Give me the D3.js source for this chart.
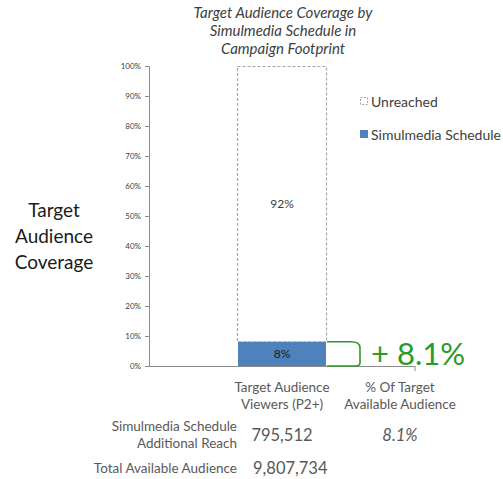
<!DOCTYPE html>
<meta charset="utf-8">
<head>
    <script type="text/javascript" src="https://cdn.jsdelivr.net/npm/d3@7"></script>
    <style>
        body { margin: 0; background: #fff; }
        text { font-family: Lato, "Open Sans", sans-serif; fill: #404040; }
    </style>
</head>
<body>
<div id="chart"></div>
<script>
    // chart data
    var categories = ["Campaign Footprint"];
    var seriesNames = ["Simulmedia Schedule", "Unreached"];
    var scheduleValues = [8.1];
    var unreachedValues = [91.9];
    var yTicks = [0, 10, 20, 30, 40, 50, 60, 70, 80, 90, 100];
    var titleLines = ["Target Audience Coverage by", "Simulmedia Schedule in", "Campaign Footprint"];
    var yTitleLines = ["Target", "Audience", "Coverage"];
    var liftLabel = "+ 8.1%";
    var tableHeaders = [["Target Audience", "Viewers (P2+)"], ["% Of Target", "Available Audience"]];
    var rowLabels = [["Simulmedia Schedule", "Additional Reach"], ["Total Available Audience"]];
    var reachValues = ["795,512", "8.1%"];
    var totalValue = "9,807,734";

    var w = 503, h = 479;
    var svg = d3.select("#chart").append("svg").attr("width", w).attr("height", h);

    var x = d3.scaleBand().domain(categories).range([149, 415]);
    var y = d3.scaleLinear().domain([0, 100]).range([366, 66]);

    // y axis
    var yAxis = d3.axisLeft(y).tickValues(yTicks).tickSize(4).tickFormat(d => d + "%");
    var gy = svg.append("g").attr("transform", "translate(149,0)").call(yAxis);
    gy.select(".domain").attr("stroke", "#8c8c8c").attr("d", "M-4,66.5H0.5V366.5H-4");
    gy.selectAll(".tick line").attr("stroke", "#8c8c8c");
    gy.selectAll(".tick text").attr("font-size", 8).attr("fill", "#404040").attr("x", -8)
        .style("font-family", "Lato, sans-serif");

    // x axis line
    svg.append("line").attr("x1", 149).attr("x2", 415).attr("y1", 366.5).attr("y2", 366.5)
        .attr("stroke", "#8c8c8c");
    svg.append("line").attr("x1", 415).attr("x2", 415).attr("y1", 366).attr("y2", 371)
        .attr("stroke", "#8c8c8c");

    var bw = 90;
    var cx = d => x(d) + x.bandwidth() / 2;

    // unreached (dashed outline)
    svg.selectAll(".unreached").data(categories).enter().append("rect")
        .attr("x", d => cx(d) - bw / 2 + 0.5)
        .attr("y", (d, i) => y(scheduleValues[i] + unreachedValues[i]) + 0.5)
        .attr("width", bw - 1)
        .attr("height", (d, i) => y(scheduleValues[i]) - y(scheduleValues[i] + unreachedValues[i]))
        .attr("fill", "none").attr("stroke", "#a6a6a6").attr("stroke-width", 1.2)
        .attr("stroke-dasharray", "3,2");

    // schedule bar
    svg.selectAll(".sched").data(categories).enter().append("rect")
        .attr("x", d => cx(d) - bw / 2 + 1)
        .attr("y", (d, i) => y(scheduleValues[i]))
        .attr("width", bw - 2)
        .attr("height", (d, i) => y(0) - y(scheduleValues[i]))
        .attr("fill", "#4f81bd");

    // bar labels
    svg.selectAll(".lblS").data(categories).enter().append("text")
        .attr("x", cx).attr("y", (d, i) => y(scheduleValues[i] / 2) + 4)
        .attr("text-anchor", "middle").attr("font-size", 12).style("fill", "#1a1a1a")
        .text((d, i) => Math.round(scheduleValues[i]) + "%");
    svg.selectAll(".lblU").data(categories).enter().append("text")
        .attr("x", cx).attr("y", (d, i) => y(scheduleValues[i] + unreachedValues[i] / 2) + 4)
        .attr("text-anchor", "middle").attr("font-size", 12)
        .text((d, i) => Math.round(unreachedValues[i]) + "%");

    // green bracket
    var bx = cx(categories[0]) + bw / 2;
    var yTop = y(scheduleValues[0]), yBot = y(0);
    svg.append("path")
        .attr("d", "M" + bx + "," + yTop + " H" + (bx + 24) + " Q" + (bx + 33) + "," + yTop + " " + (bx + 33) + "," + (yTop + 6)
            + " V" + (yBot - 3) + " Q" + (bx + 33) + "," + yBot + " " + (bx + 28) + "," + yBot + " H" + bx)
        .attr("fill", "none").attr("stroke", "#2a9a2a").attr("stroke-width", 1.6);
    svg.append("text").attr("x", bx + 44).attr("y", yBot - 1).attr("font-size", 31)
        .style("fill", "#2a9a2a").text(liftLabel);

    // title
    svg.selectAll(".title").data(titleLines).enter().append("text")
        .attr("x", 283).attr("y", (d, i) => 18 + i * 18)
        .attr("text-anchor", "middle").attr("font-size", 15).attr("font-style", "italic")
        .text(d => d);

    // y title
    svg.selectAll(".ytitle").data(yTitleLines).enter().append("text")
        .attr("x", 54).attr("y", (d, i) => 217 + i * 26)
        .attr("text-anchor", "middle").attr("font-size", 19).style("fill", "#1a1a1a")
        .text(d => d);

    // legend
    var legend = svg.append("g").attr("transform", "translate(360,0)");
    legend.append("rect").attr("x", 0.5).attr("y", 97.5).attr("width", 7).attr("height", 7)
        .attr("fill", "none").attr("stroke", "#a6a6a6").attr("stroke-dasharray", "2,1.5");
    legend.append("text").attr("x", 11).attr("y", 107).attr("font-size", 14).text(seriesNames[1]);
    legend.append("rect").attr("x", 0).attr("y", 130).attr("width", 8).attr("height", 8)
        .attr("fill", "#4f81bd");
    legend.append("text").attr("x", 11).attr("y", 140).attr("font-size", 14).text(seriesNames[0]);

    // table
    var colX = [282, 400];
    tableHeaders.forEach((lines, c) => {
        lines.forEach((t, i) => {
            svg.append("text").attr("x", colX[c]).attr("y", 392 + i * 17)
                .attr("text-anchor", "middle").attr("font-size", 13.5).style("fill", "#595959").text(t);
        });
    });
    rowLabels[0].forEach((t, i) => {
        svg.append("text").attr("x", 237).attr("y", 431 + i * 17)
            .attr("text-anchor", "end").attr("font-size", 13.5).style("fill", "#595959").text(t);
    });
    svg.append("text").attr("x", 237).attr("y", 473)
        .attr("text-anchor", "end").attr("font-size", 13.5).style("fill", "#595959").text(rowLabels[1][0]);
    reachValues.forEach((t, c) => {
        svg.append("text").attr("x", colX[c]).attr("y", 441)
            .attr("text-anchor", "middle").attr("font-size", 16.5).style("fill", "#595959")
            .attr("font-style", c === 1 ? "italic" : "normal").text(t);
    });
    svg.append("text").attr("x", 253).attr("y", 474).attr("font-size", 16.5).style("fill", "#595959").text(totalValue);
</script>
</body>
